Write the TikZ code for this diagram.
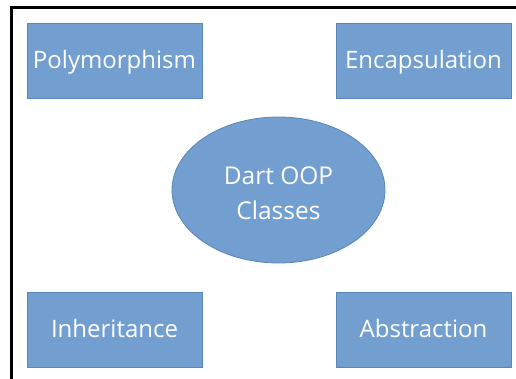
\documentclass[tikz,border=0pt]{standalone}
\usepackage{fontspec}
\setmainfont{Open Sans}
\usetikzlibrary{shapes.geometric}
\definecolor{boxfill}{HTML}{729FD0}
\definecolor{boxline}{HTML}{5A86B8}
\tikzset{
  concept/.style={rectangle, draw=boxline, fill=boxfill, line width=0.8pt,
    minimum width=175pt, minimum height=75pt, text=white,
    text height=22pt, text depth=6pt,
    font=\fontsize{24}{28}\selectfont},
  core/.style={ellipse, draw=boxline, fill=boxfill, line width=0.8pt,
    minimum width=213pt, minimum height=146pt, inner sep=0pt, text=white,
    align=center, font=\fontsize{24.5}{35}\selectfont}
}
\begin{document}
\begin{tikzpicture}[x=1pt, y=-1pt]
    \useasboundingbox (0,0) rectangle (516,379);

    % Frame
    \draw[line width=3pt] (11,390) -- (11,8) -- (530,8);

    % Nodes
    \node[concept] (poly) at (114.5,60.5) {Polymorphism};
    \node[concept] (enc) at (423.5,60.5) {Encapsulation};
    \node[core] (dart) at (278.5,190) {\rule{0pt}{24pt}Dart OOP\\Classes};
    \node[concept] (inh) at (114.5,329.5) {Inheritance};
    \node[concept] (abs) at (423.5,329.5) {Abstraction};
\end{tikzpicture}
\end{document}
